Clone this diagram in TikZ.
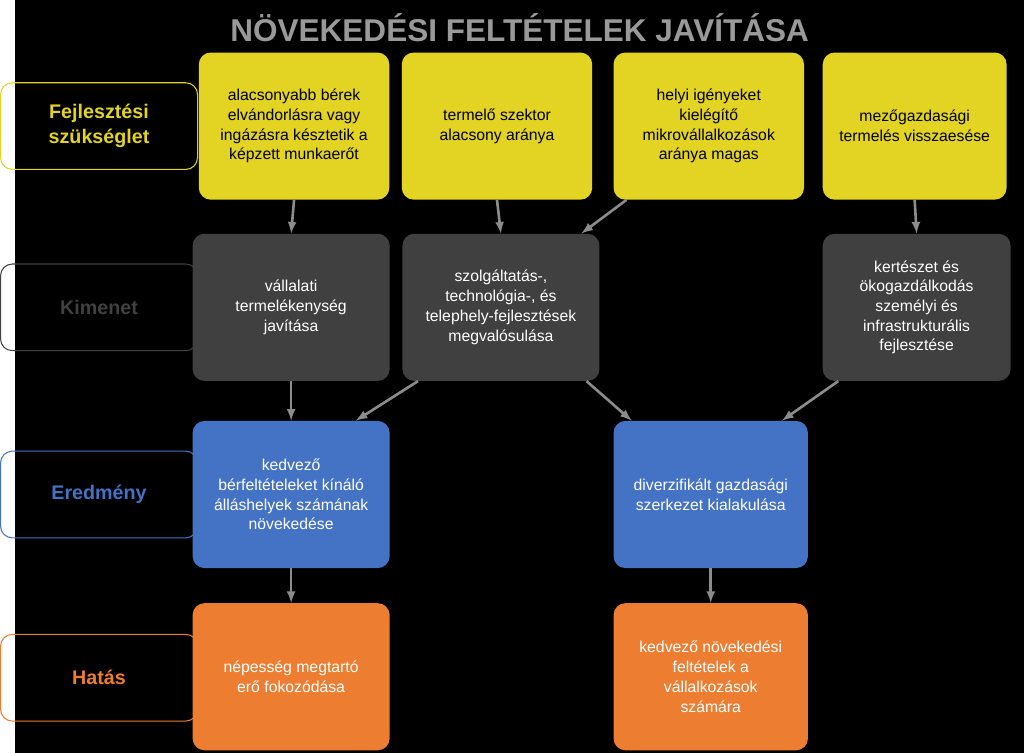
\documentclass[tikz,border=0pt]{standalone}
\usepackage{fontspec}
\setmainfont{Liberation Sans}
\usetikzlibrary{positioning}
\definecolor{cyel}{HTML}{E3D323}
\definecolor{cgray}{HTML}{404040}
\definecolor{cblue}{HTML}{4472C4}
\definecolor{corange}{HTML}{ED7D31}
\definecolor{carrow}{HTML}{8C8C8C}
\tikzset{
  box/.style={rounded corners=9pt, minimum width=150pt, minimum height=112pt, align=center, font=\fontsize{12}{15}\selectfont},
  ybox/.style={box, fill=cyel, text=black},
  gbox/.style={box, fill=cgray, text=white},
  bbox/.style={box, fill=cblue, text=white},
  obox/.style={box, fill=corange, text=white},
  lab/.style={rounded corners=9pt, draw=#1, line width=0.8pt, minimum width=150pt, minimum height=66pt, align=center, font=\bfseries\fontsize{15}{19}\selectfont},
  arr/.style={-latex, carrow, line width=2pt}
}
\begin{document}
\begin{tikzpicture}[x=0.75pt, y=-0.75pt]
  \fill[black] (0,0) rectangle (1024,764);
  \node[text=gray!80, font=\bfseries\fontsize{24}{28}\selectfont] (title) at (512,28) {NÖVEKEDÉSI FELTÉTELEK JAVÍTÁSA};
  % left labels
  \node[lab=cyel, text=cyel] (l1) at (85,128) {Fejlesztési\\szükséglet};
  \node[lab=cgray, text=cgray] (l2) at (85,312) {Kimenet};
  \node[lab=cblue, text=cblue] (l3) at (85,502) {Eredmény};
  \node[lab=corange, text=corange] (l4) at (85,688) {Hatás};
  % row 1
  \node[ybox, minimum width=145pt] (y1) at (283,128) {alacsonyabb bérek\\elvándorlásra vagy\\ingázásra késztetik a\\képzett munkaerőt};
  \node[ybox, minimum width=145pt] (y2) at (489,128) {termelő szektor\\alacsony aránya};
  \node[ybox, minimum width=145pt] (y3) at (704,128) {helyi igényeket\\kielégítő\\mikrovállalkozások\\aránya magas};
  \node[ybox, minimum width=140pt] (y4) at (913,128) {mezőgazdasági\\termelés visszaesése};
  % row 2
  \node[gbox] (g1) at (280,312) {vállalati\\termelékenység\\javítása};
  \node[gbox] (g2) at (493,312) {szolgáltatás-,\\technológia-, és\\telephely-fejlesztések\\megvalósulása};
  \node[gbox, minimum width=143pt] (g4) at (915,312) {kertészet és\\ökogazdálkodás\\személyi és\\infrastrukturális\\fejlesztése};
  % row 3
  \node[bbox] (b1) at (280,502) {kedvező\\bérfeltételeket kínáló\\álláshelyek számának\\növekedése};
  \node[bbox, minimum width=148pt] (b2) at (706,502) {diverzifikált gazdasági\\szerkezet kialakulása};
  % row 4
  \node[obox] (o1) at (280,687) {népesség megtartó\\erő fokozódása};
  \node[obox, minimum width=148pt] (o2) at (706,687) {kedvező növekedési\\feltételek a\\vállalkozások\\számára};
  % arrows
  \draw[arr] (y1.south) -- (g1.north);
  \draw[arr] (y2.south) -- (g2.north);
  \draw[arr] ([xshift=10pt]y3.south west) -- ([xshift=-14pt]g2.north east);
  \draw[arr] (y4.south) -- (g4.north);
  \draw[arr] (g1.south) -- (b1.north);
  \draw[arr] ([xshift=12pt]g2.south west) -- ([xshift=-26pt]b1.north east);
  \draw[arr] ([xshift=-10pt]g2.south east) -- ([xshift=14pt]b2.north west);
  \draw[arr] ([xshift=12pt]g4.south west) -- ([xshift=-20pt]b2.north east);
  \draw[arr] (b1.south) -- (o1.north);
  \draw[arr] (b2.south) -- (o2.north);
  \useasboundingbox (0,0) rectangle (1024,764);
\end{tikzpicture}
\end{document}
